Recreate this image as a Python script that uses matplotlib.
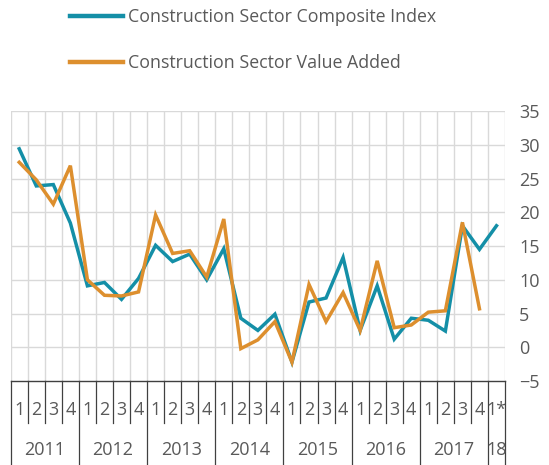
import numpy as np
import matplotlib.pyplot as plt
from matplotlib.transforms import blended_transform_factory

plt.rcParams["font.family"] = ["Open Sans", "DejaVu Sans"]

# ============================================
# DATA
# ============================================

years = ["2011", "2012", "2013", "2014", "2015", "2016", "2017", "18"]
quarters = ["1", "2", "3", "4"] * 7 + ["1*"]

composite_index = [
    29.4, 23.9, 24.1, 18.4,
    9.1, 9.6, 7.1, 10.2,
    15.1, 12.7, 13.8, 10.0,
    14.6, 4.3, 2.5, 4.9,
    -2.2, 6.7, 7.3, 13.3,
    2.5, 9.1, 1.2, 4.3,
    4.0, 2.4, 18.0, 14.5,
    18.0
]

value_added = [
    27.4, 24.8, 21.2, 26.9,
    10.0, 7.7, 7.6, 8.2,
    19.6, 13.9, 14.3, 10.4,
    19.0, -0.2, 1.1, 3.8,
    -2.2, 9.3, 3.8, 8.1,
    2.5, 12.8, 2.9, 3.3,
    5.2, 5.4, 18.5, 5.7
]

blue = "#148FA7"
orange = "#DD8F2E"
text_color = "#595959"
grid_color = "#D9D9D9"

# ============================================
# FIGURE
# ============================================

fig = plt.figure(figsize=(5.49, 4.65), dpi=100)
ax = fig.add_axes([0.0195, 0.1806, 0.9004, 0.5807])

ax.plot(np.arange(len(composite_index)), composite_index,
        color=blue, linewidth=2.5, label="Construction Sector Composite Index",
        solid_joinstyle="miter", zorder=3)
ax.plot(np.arange(len(value_added)), value_added,
        color=orange, linewidth=2.5, label="Construction Sector Value Added",
        solid_joinstyle="miter", zorder=4)

ax.set_xlim(-0.5, len(quarters) - 0.5)
ax.set_ylim(-5, 35)

ax.set_yticks(np.arange(-5, 36, 5))
ax.yaxis.tick_right()
ax.tick_params(axis="y", length=0, labelsize=13, labelcolor=text_color, pad=10)
ax.set_xticks([])

# grid lines
for yv in np.arange(0, 36, 5):
    ax.axhline(yv, color=grid_color, linewidth=1, zorder=1)
for xv in np.arange(-0.5, len(quarters), 1):
    ax.axvline(xv, color=grid_color, linewidth=1, zorder=1)

for side in ["top", "right", "left"]:
    ax.spines[side].set_visible(False)
ax.spines["bottom"].set_color("#404040")
ax.spines["bottom"].set_linewidth(1)

# ============================================
# CATEGORY AXIS (QUARTERS AND YEARS)
# ============================================

trans = blended_transform_factory(ax.transData, ax.transAxes)

for i, q in enumerate(quarters):
    ax.text(i, -0.107, q, transform=trans, ha="center", va="center",
            fontsize=13, color=text_color, clip_on=False)

for b in np.arange(-0.5, len(quarters), 1):
    is_year = (b + 0.5) % 4 == 0 or b == len(quarters) - 0.5
    y_end = -0.32 if is_year else -0.156
    ax.plot([b, b], [0, y_end], transform=trans, color="#404040",
            linewidth=0.9, clip_on=False)

for k, yr in enumerate(years):
    if yr == "18":
        center = len(quarters) - 1
    else:
        center = 4 * k + 1.5
    ax.text(center, -0.256, yr, transform=trans, ha="center", va="center",
            fontsize=13, color=text_color, clip_on=False)

# ============================================
# LEGEND
# ============================================

leg = ax.legend(loc="upper left", bbox_to_anchor=(0.1275, 0.983),
                bbox_transform=fig.transFigure, frameon=False,
                fontsize=12.8, handlelength=2.98, handletextpad=0.28,
                labelspacing=1.59, borderpad=0, borderaxespad=0)
for t in leg.get_texts():
    t.set_color(text_color)
for h in leg.legend_handles:
    h.set_linewidth(3.2)

fig.savefig("out.png", dpi=100)
